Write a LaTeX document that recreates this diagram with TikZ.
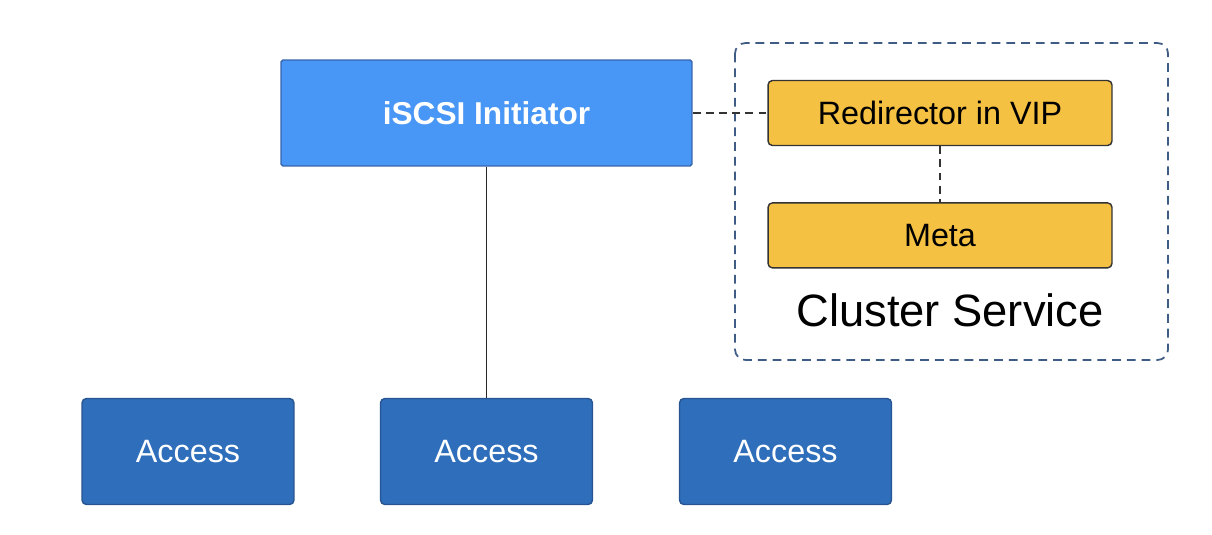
\documentclass[tikz,border=0pt]{standalone}
\usepackage{fontspec}
\setmainfont{Liberation Sans}
\usetikzlibrary{positioning}

\definecolor{initblue}{RGB}{72,150,245}
\definecolor{initedge}{RGB}{55,100,170}
\definecolor{accblue}{RGB}{47,110,186}
\definecolor{accedge}{RGB}{40,85,145}
\definecolor{svcyellow}{RGB}{245,193,66}
\definecolor{frameblue}{RGB}{62,92,132}

\begin{document}
\begin{tikzpicture}[x=0.02cm,y=-0.02cm,
  initbox/.style={draw=initedge,fill=initblue,line width=0.8pt,rounded corners=1pt,minimum width=8.22cm,minimum height=2.12cm,text=white,font=\fontsize{18}{20}\selectfont\bfseries},
  svcbox/.style={draw=black!80,fill=svcyellow,line width=0.8pt,rounded corners=2.5pt,minimum width=6.88cm,minimum height=1.3cm,font=\fontsize{18.4}{20}\selectfont},
  accbox/.style={draw=accedge,fill=accblue,line width=0.8pt,rounded corners=2.5pt,minimum width=4.24cm,minimum height=2.12cm,text=white,font=\fontsize{18.4}{20}\selectfont},
  link/.style={draw=black!80,line width=1pt,dash pattern=on 4.5pt off 3pt}]
\useasboundingbox (0,0) rectangle (1212,534);

% cluster frame
\draw[frameblue,line width=1pt,rounded corners=6pt,dash pattern=on 5pt off 3.4pt] (735,43) rectangle (1168,360);

\node[initbox] (initiator) at (486.5,113) {iSCSI Initiator};
\node[svcbox] (redirector) at (940,113) {Redirector in VIP};
\node[svcbox,below=1.12cm of redirector] (meta) {Meta};
\node[font=\fontsize{25.8}{28}\selectfont] (cluster) at (950,310) {Cluster Service};

\node[accbox] (access 1) at (188,451.5) {Access};
\node[accbox] (access 2) at (486.5,451.5) {Access};
\node[accbox] (access 3) at (785.5,451.5) {Access};

\draw[link] (initiator.east) -- (redirector.west);
\draw[link] (redirector.south) -- (meta.north);
\draw[black!85,line width=1pt] (initiator.south) -- (access 2.north);
\end{tikzpicture}
\end{document}
